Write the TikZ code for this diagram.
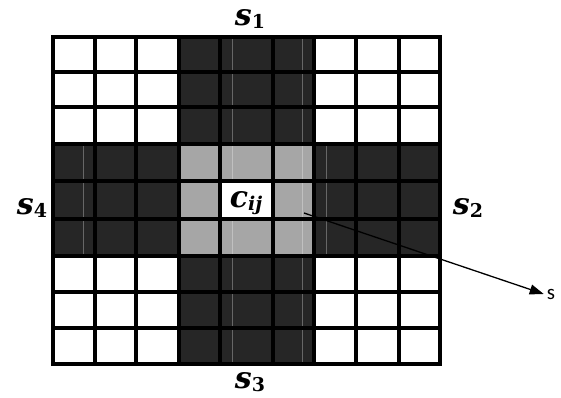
\documentclass[tikz,border=0pt]{standalone}
\usepackage{fontspec}
\newfontfamily\arrowfont{Carlito}
\newfontfamily\labfont{DejaVu Serif}
\usetikzlibrary{arrows.meta}
\definecolor{darkcell}{HTML}{262626}
\definecolor{lightcell}{HTML}{A6A6A6}
\newcommand\mainsym[1]{{\labfont\bfseries\itshape\fontsize{30}{34}\selectfont #1}}
\newcommand\subup[1]{\raisebox{-0.3em}{\labfont\bfseries\fontsize{19}{22}\selectfont #1}}
\newcommand\subit[1]{\raisebox{-0.3em}{\labfont\bfseries\itshape\fontsize{19}{22}\selectfont #1}}
\tikzset{
  gridline/.style={line width=4pt, black},
  seam/.style={line width=0.6pt, white, opacity=0.3},
  lbl/.style={inner sep=0pt},
  pointer/.style={line width=1.3pt, -{Triangle[length=14pt,width=10pt]}},
}
\begin{document}
\begin{tikzpicture}[x=1pt,y=-1pt]
\useasboundingbox (0,0) rectangle (561,398);
\foreach \v [count=\i from 0] in {53,94.5,136.3,178.8,219.6,272.8,313.5,356,398.5,440}
  \coordinate (x\i) at (\v,0);
\foreach \v [count=\i from 0] in {37,72.5,107.5,144,180.5,219,256,292,328,364}
  \coordinate (y\i) at (0,\v);
% fills
\fill[white] (x0|-y0) rectangle (x9|-y9);
\fill[darkcell] (x3|-y0) rectangle (x6|-y9);
\fill[darkcell] (x0|-y3) rectangle (x9|-y6);
\fill[lightcell] (x3|-y3) rectangle (x6|-y6);
\fill[white] (x4|-y4) rectangle (x5|-y5);
% faint seams
\draw[seam] (232,37) -- (232,180.5) (232,219) -- (232,364);
\draw[seam] (302,37) -- (302,364);
\draw[seam] (83,144) -- (83,256);
\draw[seam] (326,144) -- (326,256);
% grid
\foreach \i in {1,...,8} {
  \draw[gridline] (x\i|-y0) -- (x\i|-y9);
  \draw[gridline] (x0|-y\i) -- (x9|-y\i);
}
\draw[gridline, line cap=rect] (x0|-y0) rectangle (x9|-y9);
% labels
\node[lbl] (s1) at (250,19) {\mainsym{s}\subup{1}};
\node[lbl] (s2) at (468,208) {\mainsym{s}\subup{2}};
\node[lbl] (s3) at (250,382) {\mainsym{s}\subup{3}};
\node[lbl] (s4) at (32,208) {\mainsym{s}\subup{4}};
\node[lbl] (cij) at (246,203) {\mainsym{c}\subit{ij}};
\node[inner sep=0pt, font=\arrowfont\fontsize{21}{24}\selectfont] (s) at (551,294) {s};
\coordinate (start) at (304,213);
\draw[pointer] (start) -- ([xshift=-3pt]s.west);
\end{tikzpicture}
\end{document}
